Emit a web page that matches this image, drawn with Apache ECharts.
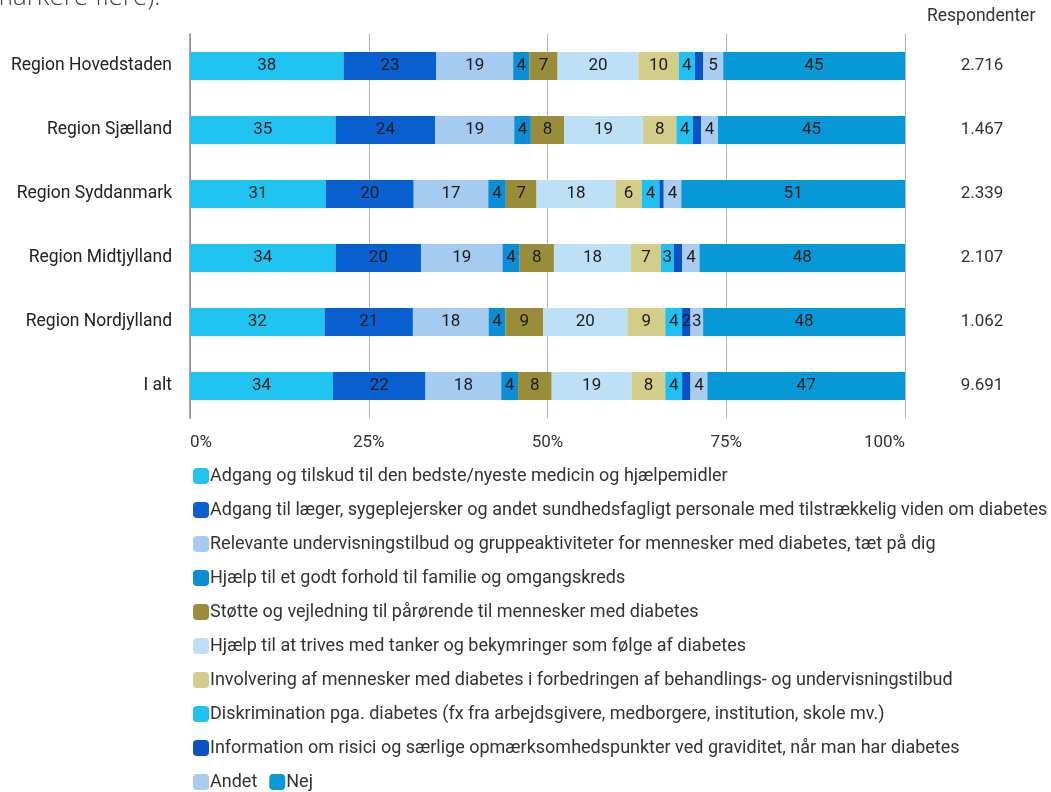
<!DOCTYPE html>
<html>
<head>
<meta charset="utf-8">
<script src="https://cdn.jsdelivr.net/npm/echarts@6/dist/echarts.min.js"></script>
<style>html,body{margin:0;padding:0;background:#fff}#c{width:1051px;height:792px}</style>
</head>
<body>
<div id="c"></div>
<script>
const categories = ['Region Hovedstaden','Region Sjælland','Region Syddanmark','Region Midtjylland','Region Nordjylland','I alt'];
const respondents = ['2.716','1.467','2.339','2.107','1.062','9.691'];
const seriesNames = [
  'Adgang og tilskud til den bedste/nyeste medicin og hjælpemidler',
  'Adgang til læger, sygeplejersker og andet sundhedsfagligt personale med tilstrækkelig viden om diabetes',
  'Relevante undervisningstilbud og gruppeaktiviteter for mennesker med diabetes, tæt på dig',
  'Hjælp til et godt forhold til familie og omgangskreds',
  'Støtte og vejledning til pårørende til mennesker med diabetes',
  'Hjælp til at trives med tanker og bekymringer som følge af diabetes',
  'Involvering af mennesker med diabetes i forbedringen af behandlings- og undervisningstilbud',
  'Diskrimination pga. diabetes (fx fra arbejdsgivere, medborgere, institution, skole mv.)',
  'Information om risici og særlige opmærksomhedspunkter ved graviditet, når man har diabetes',
  'Andet',
  'Nej'
];
const medicin      = [38,35,31,34,32,34];
const laeger       = [23,24,20,20,21,22];
const undervisning = [19,19,17,19,18,18];
const familie      = [4,4,4,4,4,4];
const paaroerende  = [7,8,7,8,9,8];
const trives       = [20,19,18,18,20,19];
const involvering  = [10,8,6,7,9,8];
const diskrimination = [4,4,4,3,4,4];
const information  = [2,2,1,2,2,2];
const andet        = [5,4,4,4,3,4];
const nej          = [45,45,51,48,48,47];
const xTicks = ['0%','25%','50%','75%','100%'];

const allValues = [medicin,laeger,undervisning,familie,paaroerende,trives,involvering,diskrimination,information,andet,nej];
const colors = ['#1fc4f0','#0a60d0','#a6cbf0','#0b8ed4','#9a8d3a','#bde0f6','#d2cd88','#1ec1f2','#0a52c8','#a9cdf1','#0798d8'];
const infoLabelRows = ['Region Nordjylland'];

const sums = categories.map((_, r) => allValues.reduce((s, arr) => s + arr[r], 0));

const series = allValues.map((vals, si) => ({
  name: seriesNames[si],
  type: 'bar',
  stack: 'total',
  barWidth: 28,
  itemStyle: { color: colors[si] },
  label: {
    show: true,
    position: 'inside',
    color: '#1c1c1c',
    fontSize: 17,
    fontFamily: 'Roboto',
    formatter: p => {
      if (si === 8 && infoLabelRows.indexOf(categories[p.dataIndex]) < 0) return '';
      return String(vals[p.dataIndex]);
    }
  },
  emphasis: { disabled: true },
  data: vals.map((v, r) => v / sums[r] * 100)
}));

const chart = echarts.init(document.getElementById('c'));
chart.setOption({
  animation: false,
  textStyle: { fontFamily: 'Roboto' },
  grid: { left: 190, right: 146, top: 34, bottom: 374, containLabel: false },
  xAxis: {
    type: 'value', min: 0, max: 100, interval: 25,
    axisLine: { show: false }, axisTick: { show: false },
    splitLine: { lineStyle: { color: '#b4b4b4', width: 1 } },
    axisLabel: { formatter: v => xTicks[v / 25], color: '#333', fontSize: 17, margin: 16,
                 alignMinLabel: 'left', alignMaxLabel: 'right' }
  },
  yAxis: [{
    type: 'category', data: categories, inverse: true,
    axisLine: { show: true, lineStyle: { color: '#8a8a8a', width: 1.5 } },
    axisTick: { show: false },
    axisLabel: { color: '#222', fontSize: 17.5, margin: 18 }
  }, {
    type: 'category', data: respondents, inverse: true, position: 'right',
    axisLine: { show: false }, axisTick: { show: false },
    axisLabel: { color: '#333', fontSize: 17, margin: 77, align: 'center' }
  }],
  legend: [{
    orient: 'vertical', left: 188, top: 462,
    data: seriesNames.slice(0, 9),
    icon: 'roundRect', itemWidth: 16, itemHeight: 16, itemGap: 16,
    textStyle: { color: '#333', fontSize: 18, padding: [0,0,0,-4] },
    selectedMode: false
  }, {
    orient: 'horizontal', left: 188, top: 768,
    data: seriesNames.slice(9),
    icon: 'roundRect', itemWidth: 16, itemHeight: 16, itemGap: 12,
    textStyle: { color: '#333', fontSize: 18, padding: [0,0,0,-4] },
    selectedMode: false
  }],
  graphic: [{
    type: 'text', left: 927, top: 8,
    style: { text: 'Respondenter', fill: '#333', font: '17.5px Roboto' }
  }, {
    type: 'text', left: -10, top: -15,
    style: { text: 'markere flere).', fill: '#444', font: '300 26px "Open Sans"' }
  }],
  series: series
});
</script>
</body>
</html>
